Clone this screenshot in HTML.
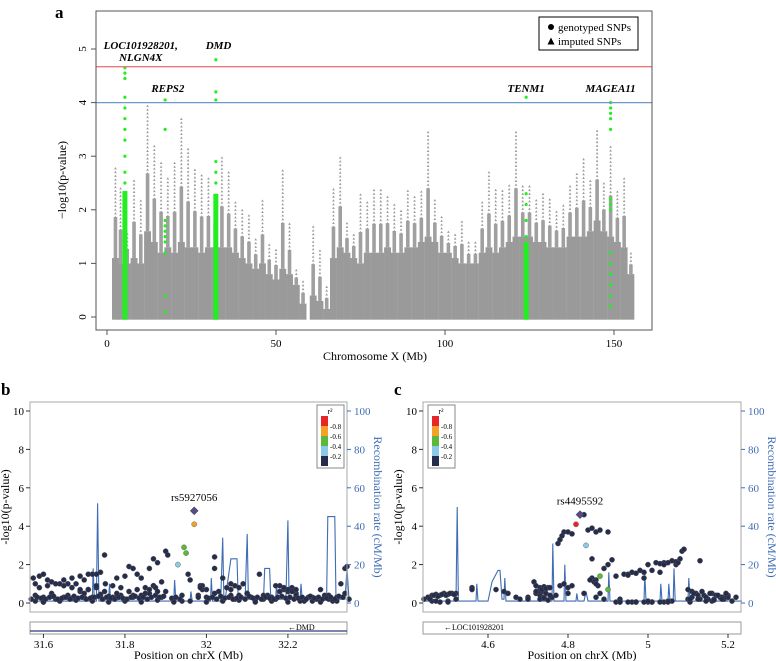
<!DOCTYPE html>
<html><head><meta charset="utf-8">
<style>
html,body{margin:0;padding:0;background:#fff;}
svg{display:block;font-family:"Liberation Serif",serif;}
</style></head>
<body>
<svg id="fig" width="776" height="661" viewBox="0 0 776 661" xmlns="http://www.w3.org/2000/svg">
<g id="pa"></g>
<g id="pb"></g>
<g id="pc"></g>
</svg>
<script>
// ---------- Panel a data ----------
const binMb    = [2.5,4,6,8,10,12,14,16,18,20,22,24,26,28,30,32,34,36,38,40,42,44,46,48,50,52,54,56,58,61,63,65,67,69,71,73,75,77,79,81,83,85,87,89,91,93,95,97,99,101,103,105,107,109,111,113,115,117,119,121,123,125,127,129,131,133,135,137,139,141,143,145,147,149,151,153,155];
const binDense = [1.1,1.0,1.0,1.1,1.0,1.6,1.4,1.2,1.3,1.2,1.4,1.3,1.3,1.2,1.3,1.3,1.3,1.3,1.2,1.1,1.0,0.9,1.0,0.8,0.7,0.9,0.8,0.6,0.25,0.4,0.3,0.15,1.1,1.3,1.2,1.1,1.0,1.2,1.2,1.2,1.3,1.2,1.2,1.3,1.3,1.4,1.5,1.4,1.2,1.2,1.1,1.0,1.0,1.0,1.2,1.3,1.2,1.3,1.4,1.5,1.5,1.5,1.4,1.4,1.3,1.3,1.3,1.5,1.5,1.5,1.6,1.8,1.6,1.5,1.4,1.3,0.8];
const binPeak  = [2.8,2.4,1.6,2.6,2.2,4.0,3.2,2.9,2.6,2.9,3.7,3.2,2.8,2.7,2.6,2.3,3.0,2.7,2.2,2.0,1.9,1.5,2.2,1.4,1.3,2.8,1.8,0.9,0.7,1.7,1.3,0.6,2.4,3.0,1.8,1.6,2.3,2.2,2.4,2.4,2.3,2.1,2.0,2.4,2.3,2.4,3.5,2.2,1.9,1.6,1.6,1.8,1.4,1.4,2.2,2.7,2.4,2.4,2.5,3.5,2.5,2.5,2.2,2.3,2.2,2.0,2.1,2.5,2.7,3.0,2.6,3.5,2.5,3.2,2.4,2.6,1.2];
const greenMb    = [5.3,17.2,32.2,124,149];
const greenDense = [2.35,0,2.3,1.4,0];
const greenPts   = [[2.5,2.7,3.0,3.3,3.5,3.7,3.9,4.1,4.45,4.55,4.65],[0.1,0.4,1.2,1.4,1.5,1.6,1.7,1.8,3.5,4.05],[2.5,2.7,2.9,4.05,4.2,4.8],[1.5,1.8,2.1,2.3,4.1],[0.2,0.4,0.6,0.8,1.0,1.2,2.0,2.1,2.2,3.5,3.7,3.8,3.9,4.0]];
const geneNames = ["LOC101928201,","NLGN4X","REPS2","DMD","TENM1","MAGEA11"];
const geneMb    = [10,10,18,33,124,149];
const geneP     = [5.0,4.78,4.2,5.0,4.2,4.2];
const aXTicks = [0,50,100,150];
const aYTicks = [0,1,2,3,4,5];
const sigLine = 4.67, sugLine = 4.0;

// ---------- Panel b data ----------
const bPos = [31.575,31.58,31.59,31.6,31.61,31.62,31.58,31.6,31.62,31.64,31.66,31.68,31.7,31.72,31.74,31.58,31.6,31.63,31.65,31.67,31.69,31.71,31.73,31.75,31.7,31.72,31.74,31.752,31.76,31.78,31.8,31.81,31.82,31.83,31.84,31.78,31.8,31.82,31.84,31.86,31.87,31.88,31.87,31.9,31.905,31.93,31.945,31.95,31.97,31.97,31.955,31.96,31.985,31.99,32.02,32.02,32.04,32.05,32.06,32.09,32.1,32.13,32.18,32.19,32.2,32.21,32.22,32.28,32.33,32.34,32.345,31.77,31.79,31.85,31.89,31.92,31.94,31.98,32.0,32.03,32.07,32.08,32.11,32.12,32.14,32.15,32.16,32.17,32.23,32.24,32.25,32.26,32.27,32.29,32.3,32.31,32.32,32.35,31.6,31.64,31.68,31.72,31.76,31.8,31.84,31.88,31.92,31.96,32.0,32.04,32.08,32.12,32.16,32.2,32.24,32.28,32.32,31.62,31.66,31.7,31.74,31.78,31.82,31.86,31.9,31.94,31.98,32.02,32.06,32.1,32.14,32.18,32.22,32.26,32.3,32.34,
 31.57,31.585,31.595,31.605,31.615,31.625,31.635,31.645,31.655,31.665,31.675,31.685,31.695,31.705,31.715,31.725,31.735,31.745,31.755,31.765,31.775,31.785,31.795,31.805,31.815,31.825,31.835,31.845,31.855,31.865,31.875,31.885,31.895,31.915,31.925,31.935,32.005,32.015,32.025,32.035,32.045,32.055,32.065,32.075,32.085,32.095,32.105,32.115,32.125,32.135,32.145,32.155,32.165,32.175,32.185,32.195,32.205,32.215,32.225,32.235,32.245,32.255,32.265,32.275,32.285,32.295,32.305,32.315,32.325,32.335,
 31.59,31.61,31.63,31.65,31.67,31.69,31.71,31.73,31.75,31.77,31.79,31.81,31.83,31.85,31.87,31.89,31.69,31.71,31.73,31.65,31.67,31.86,31.875,31.88,32.19,32.2,32.21,32.17,32.22,32.06,32.07,32.08,31.99,31.985,32.0];
const bP   = [1.3,1.0,1.4,1.5,1.2,1.1,0.4,0.3,0.35,1.0,1.0,1.0,1.2,1.5,1.6,0.1,0.05,0.2,0.3,0.25,0.6,0.7,0.8,2.5,0.3,0.3,0.4,1.0,0.35,1.3,1.4,1.9,1.8,1.5,1.3,0.3,0.2,0.3,0.4,1.8,2.3,2.1,0.9,2.7,2.5,2.0,2.9,2.6,4.8,4.1,1.5,1.2,0.9,0.7,2.4,1.8,1.3,0.8,1.0,1.0,0.5,1.5,0.9,0.7,0.6,0.8,0.5,0.7,1.0,1.8,1.9,0.3,0.4,0.5,0.3,0.2,0.1,0.4,0.3,0.6,0.2,0.4,0.3,0.1,0.2,0.4,0.3,0.2,0.1,0.2,0.3,0.1,0.2,0.4,0.2,0.1,0.3,0.2,0.05,0.1,0.15,0.1,0.05,0.1,0.05,0.15,0.05,0.1,0.05,0.1,0.15,0.05,0.1,0.05,0.1,0.05,0.1,0.5,0.4,0.5,0.45,0.5,0.4,0.5,0.6,0.4,0.3,0.5,0.4,0.5,0.4,0.6,0.4,0.3,0.4,0.5,
 0.2,0.3,0.25,0.2,0.3,0.35,0.2,0.25,0.3,0.2,0.35,0.25,0.3,0.2,0.25,0.3,0.35,0.2,0.3,0.25,0.2,0.3,0.25,0.2,0.3,0.35,0.25,0.3,0.2,0.3,0.4,0.3,0.35,0.25,0.3,0.2,0.25,0.3,0.2,0.35,0.25,0.3,0.2,0.25,0.3,0.2,0.35,0.25,0.3,0.2,0.3,0.25,0.2,0.3,0.35,0.25,0.3,0.2,0.25,0.3,0.2,0.35,0.25,0.3,0.2,0.25,0.3,0.2,0.35,0.3,
 0.8,0.9,1.0,0.9,0.8,0.7,0.7,0.9,0.6,0.9,0.8,0.6,0.7,0.8,0.9,1.1,1.4,1.5,1.5,1.2,1.3,0.7,0.8,0.6,0.8,0.7,0.6,0.9,0.7,0.7,0.9,0.8,0.9,0.8,0.7];
const bR2  = bP.map(function(v,i){ return i===49?0.7:(i===46||i===47?0.5:(i===45?0.3:0.1)); });
const bRecPos = [31.57,31.72,31.722,31.725,31.73,31.733,31.736,31.74,31.76,31.762,31.765,31.92,31.922,31.925,31.96,31.962,31.965,32.01,32.012,32.015,32.035,32.04,32.043,32.046,32.06,32.063,32.075,32.078,32.095,32.1,32.103,32.14,32.143,32.155,32.158,32.17,32.172,32.175,32.195,32.2,32.203,32.23,32.232,32.235,32.295,32.298,32.315,32.318,32.34,32.345,32.35];
const bRecRate= [1,1,18,1,1,52,1,1,1,10,1,1,12,1,1,6,1,1,13,1,1,34,2,2,23,23,23,2,2,36,2,2,18,18,2,2,10,2,2,43,2,2,10,2,2,45,45,2,2,18,2];
const bLead = "rs5927056", bLeadPos = 31.97, bLeadP = 4.8;
const bXTicks = [31.6,31.8,32,32.2];

// ---------- Panel c data ----------
const cPos = [4.44,4.45,4.46,4.47,4.48,4.49,4.5,4.51,4.52,4.46,4.48,4.5,4.52,4.56,4.56,4.62,4.64,4.65,4.67,4.68,4.7,4.715,4.72,4.73,4.74,4.75,4.73,4.76,4.775,4.78,4.785,4.79,4.8,4.81,4.82,4.83,4.84,4.845,4.85,4.86,4.87,4.88,4.9,4.78,4.79,4.8,4.81,4.86,4.87,4.875,4.88,4.89,4.9,4.9,4.92,4.94,4.96,4.98,5.0,5.02,5.04,5.06,5.08,5.085,5.09,5.1,5.11,5.12,5.14,5.16,5.18,5.2,5.22,4.92,4.96,5.0,5.04,5.06,5.1,5.13,5.16,5.19,5.21,4.47,4.5,4.7,4.74,4.77,4.8,4.84,4.88,4.93,4.97,5.01,5.05,5.11,5.15,5.2,4.735,4.745,4.755,4.87,4.89,4.95,4.99,5.03,5.07,5.13,5.17,5.19,
 4.455,4.465,4.475,4.485,4.495,4.505,4.515,4.72,4.725,4.735,4.745,4.755,4.72,4.73,4.74,4.75,4.93,4.95,4.97,4.99,5.01,5.03,5.05,5.07,4.91,4.93,4.95,4.97,4.99,5.01,5.03,5.05,5.105,5.115,5.125,5.135,5.145,5.155,5.165,5.175,5.185,5.195,5.105,5.125,5.145,5.165,5.185,5.0,5.04,5.075,4.86,4.865,4.855,4.87];
const cP   = [0.2,0.3,0.4,0.45,0.4,0.5,0.45,0.5,0.5,0.1,0.05,0.1,0.2,0.8,0.7,0.7,0.6,0.5,0.3,0.2,0.3,1.1,0.9,0.8,0.85,0.8,0.4,0.3,3.1,3.3,3.5,3.7,3.7,3.6,4.1,4.6,4.6,3.0,3.8,3.9,3.7,3.8,3.7,0.9,1.0,0.8,0.9,1.3,1.2,0.9,1.4,1.8,2.0,0.7,1.4,1.5,1.6,1.7,2.0,2.1,2.1,2.2,2.3,2.7,2.8,0.7,0.6,0.5,0.4,0.5,0.3,0.4,0.3,0.05,0.05,0.05,0.05,0.1,0.2,0.2,0.1,0.2,0.1,0.1,0.05,0.2,0.3,0.4,0.5,0.5,0.5,0.05,0.05,0.05,0.1,0.3,0.2,0.3,0.6,0.5,0.4,0.3,0.2,1.5,1.3,1.6,2.0,2.2,0.4,0.3,0.2,
 0.4,0.35,0.45,0.4,0.5,0.45,0.5,0.6,0.7,0.75,0.8,0.6,0.2,0.25,0.15,0.2,1.45,1.55,1.6,1.7,2.05,2.1,2.15,2.25,0.05,0.05,0.05,0.05,0.05,0.05,0.05,0.05,0.5,0.4,0.6,0.3,0.5,0.2,0.4,0.3,0.5,0.2,0.2,0.1,0.15,0.2,0.1,2.0,2.1,2.3,1.1,1.2,1.0,1.3];
const cR2  = cP.map(function(v,i){ return (i===34||i===35)?0.9:(i===50||i===53?0.5:(i===37?0.3:0.1)); });
const cRecPos = [4.44,4.52,4.523,4.526,4.57,4.572,4.575,4.6,4.61,4.615,4.625,4.63,4.635,4.64,4.642,4.645,4.76,4.762,4.765,4.79,4.792,4.795,4.82,4.822,4.825,4.84,4.845,4.85,4.9,4.902,4.905,4.99,4.992,4.995,5.03,5.032,5.035,5.05,5.052,5.055,5.063,5.065,5.068,5.1,5.102,5.105,5.2,5.202,5.205,5.235];
const cRecRate= [1,1,50,1,1,10,1,1,11,13,17,17,2,2,13,1,1,31,1,1,20,1,1,5,1,1,6,1,1,16,1,1,15,1,1,10,1,1,10,1,1,18,1,1,13,1,1,5,1,1];
const cLead = "rs4495592", cLeadPos = 4.83, cLeadP = 4.6;
const cXTicks = [4.6,4.8,5,5.2];
const yTicksLZ = [0,2,4,6,8,10];
const recTicks = [0,20,40,60,80,100];
const r2Labels = ["0.8","0.6","0.4","0.2"];

// ---------- helpers ----------
const NS="http://www.w3.org/2000/svg";
function mk(parent,tag,attrs,text){const e=document.createElementNS(NS,tag);for(const k in attrs)e.setAttribute(k,attrs[k]);if(text!==undefined)e.textContent=text;parent.appendChild(e);return e;}

// ---------- Panel a ----------
(function(){
const g=document.getElementById('pa');
const L=96,R=652,T=11,B=330;
const xa=function(m){return 107+m*3.38;};
const ya=function(p){return 317-p*53.6;};
let t=mk(g,'text',{x:55,y:18,'font-size':17,'font-weight':'bold'},'a');

const bw=6.9;
binMb.forEach(function(m,i){
  const dn=binDense[i],pk=binPeak[i];
  const r=mk(g,'rect',{x:xa(m)-bw/2,y:ya(dn),width:bw,height:ya(-0.05)-ya(dn),fill:'#9a9a9a'});
  
  const mid=dn+(pk-dn)*0.45;
  const r2=mk(g,'rect',{x:xa(m)-1.8,y:ya(mid),width:3.6,height:ya(dn)-ya(mid),fill:'#a0a0a0'});
  
  for(let p=mid;p<=pk+0.001;p+=0.07){
    const x=xa(m),y=ya(p);
    const tri=mk(g,'path',{d:'M'+(x-1.3)+','+(y+1.1)+'L'+(x+1.3)+','+(y+1.1)+'L'+x+','+(y-1.2)+'Z',fill:'#9a9a9a'});
    
  }
});
greenMb.forEach(function(m,i){
  if(greenDense[i]>0){
    const r=mk(g,'rect',{x:xa(m)-2.5,y:ya(greenDense[i]),width:5,height:ya(-0.05)-ya(greenDense[i]),fill:'#22ee22'});
    
  }
  greenPts[i].forEach(function(p){
    const c=mk(g,'circle',{cx:xa(m),cy:ya(p),r:1.6,fill:'#22ee22'});
    
  });
});
let l=mk(g,'line',{x1:L,x2:R,y1:ya(sigLine),y2:ya(sigLine),stroke:'#ee7777','stroke-width':1.3});

l=mk(g,'line',{x1:L,x2:R,y1:ya(sugLine),y2:ya(sugLine),stroke:'#6f98c8','stroke-width':1.3});

const box=mk(g,'rect',{x:L,y:T,width:R-L,height:B-T,fill:'none',stroke:'#555','stroke-width':1});

geneNames.forEach(function(n,i){
  const tx=mk(g,'text',{x:xa(geneMb[i]),y:ya(geneP[i]),'font-size':11,'font-weight':'bold','font-style':'italic','text-anchor':'middle'},n);
  
});
aXTicks.forEach(function(v){
  const tk=mk(g,'line',{x1:xa(v),x2:xa(v),y1:B,y2:B+5,stroke:'#555'});
  
  const tl=mk(g,'text',{x:xa(v),y:B+17,'font-size':11,'text-anchor':'middle'},String(v));
  
});
aYTicks.forEach(function(v){
  const tk=mk(g,'line',{x1:L-5,x2:L,y1:ya(v),y2:ya(v),stroke:'#555'});
  
  const tl=mk(g,'text',{x:0,y:0,'font-size':11,'text-anchor':'middle',transform:'translate('+(L-10)+','+ya(v)+') rotate(-90)'},String(v));
  
});
let at=mk(g,'text',{x:0,y:0,'font-size':12,'text-anchor':'middle',transform:'translate(66,180) rotate(-90)'},'\u2212log10(p-value)');

at=mk(g,'text',{x:375,y:360,'font-size':12,'text-anchor':'middle'},'Chromosome X (Mb)');

const lg=mk(g,'g',{});
mk(lg,'rect',{x:539,y:17,width:99,height:33,fill:'#fff',stroke:'#000','stroke-width':1});
let le=mk(lg,'circle',{cx:551,cy:27,r:3,fill:'#000'});
mk(lg,'text',{x:558,y:31,'font-size':11},'genotyped SNPs');
le=mk(lg,'path',{d:'M547.5,44.5L554.5,44.5L551,37.5Z',fill:'#000'});
mk(lg,'text',{x:558,y:45,'font-size':11},'imputed SNPs');
})();

// ---------- LocusZoom panels ----------
function lz(gid,label,L,R,xmin,xmax,pos,pv,r2,recP,recR,lead,leadPos,leadP,xt,geneText,geneX,legX){
const g=document.getElementById(gid);
const T=402,B=612;
const xs=function(v){return L+(v-xmin)/(xmax-xmin)*(R-L);};
const ys=function(p){return 603-p*19.2;};
const yr=function(r){return 603-r*1.92;};
let t=mk(g,'text',{x:L-29,y:395,'font-size':17,'font-weight':'bold'},label);

const col=function(r){return r>=0.8?'#e8262a':r>=0.6?'#f5a028':r>=0.4?'#5cb83a':r>=0.2?'#8cc8ea':'#252c4c';};
let d='';
recP.forEach(function(p,i){d+=(i?'L':'M')+xs(p).toFixed(1)+','+yr(recR[i]).toFixed(1);});
const rl=mk(g,'path',{d:d,fill:'none',stroke:'#3f6cb4','stroke-width':1.1});

pos.forEach(function(p,i){
  const c=mk(g,'circle',{cx:xs(p),cy:ys(pv[i]),r:2.6,fill:col(r2[i]),stroke:'#555','stroke-width':0.4});
  
});
const lx=xs(leadPos),ly=ys(leadP);
const dm=mk(g,'path',{d:'M'+lx+','+(ly-4)+'L'+(lx+4)+','+ly+'L'+lx+','+(ly+4)+'L'+(lx-4)+','+ly+'Z',fill:'#5a4a8a',stroke:'#333','stroke-width':0.5});

const ll=mk(g,'text',{x:lx,y:ly-10,'font-size':11,'text-anchor':'middle'},lead);

const fr=mk(g,'rect',{x:L,y:T,width:R-L,height:B-T,fill:'none',stroke:'#aaa','stroke-width':1});

yTicksLZ.forEach(function(v){
  const tk=mk(g,'line',{x1:L-4,x2:L,y1:ys(v),y2:ys(v),stroke:'#333'});
  const tl=mk(g,'text',{x:L-6,y:ys(v)+4,'font-size':11,'text-anchor':'end'},String(v));
});
recTicks.forEach(function(v){
  const tk=mk(g,'line',{x1:R,x2:R+4,y1:yr(v),y2:yr(v),stroke:'#3f6cb4'});
  const tl=mk(g,'text',{x:R+7,y:yr(v)+4,'font-size':11,fill:'#3f6cb4'},String(v));
});
let a=mk(g,'text',{x:0,y:0,'font-size':12,'text-anchor':'middle',transform:'translate('+(L-21)+',507) rotate(-90)'},'-log10(p-value)');

a=mk(g,'text',{x:0,y:0,'font-size':12,'text-anchor':'middle',fill:'#3f6cb4',transform:'translate('+(R+27)+',507) rotate(90)'},'Recombination rate (cM/Mb)');

const gt=mk(g,'rect',{x:L,y:622,width:R-L,height:12,fill:'#fff',stroke:'#999'});

if(label==='b'){const ln=mk(g,'line',{x1:L,x2:R,y1:631,y2:631,stroke:'#2a3f7a','stroke-width':1.2});}
const gl=mk(g,'text',{x:geneX,y:630,'font-size':8},geneText);

xt.forEach(function(v){
  const tk=mk(g,'line',{x1:xs(v),x2:xs(v),y1:634,y2:638,stroke:'#333'});
  const tl=mk(g,'text',{x:xs(v),y:648,'font-size':11,'text-anchor':'middle'},String(v));
});
a=mk(g,'text',{x:(L+R)/2,y:659,'font-size':12,'text-anchor':'middle'},'Position on chrX (Mb)');

const lg=mk(g,'g',{});
mk(lg,'rect',{x:legX,y:405,width:27,height:63,fill:'#fff',stroke:'#888'});
mk(lg,'text',{x:legX+13,y:414,'font-size':8,'text-anchor':'middle'},'r\u00b2');
const cols=['#e8262a','#f5a028','#5cb83a','#8cc8ea','#252c4c'];
cols.forEach(function(c,i){mk(lg,'rect',{x:legX+4,y:416+i*10,width:7,height:10,fill:c});});
r2Labels.forEach(function(s,i){mk(lg,'text',{x:legX+13,y:429+i*10,'font-size':7},'-'+s);});
}
lz('pb','b',30,347,31.567,32.345,bPos,bP,bR2,bRecPos,bRecRate,bLead,bLeadPos,bLeadP,bXTicks,'\u2190DMD',288,317);
lz('pc','c',423,741,4.4375,5.2325,cPos,cP,cR2,cRecPos,cRecRate,cLead,cLeadPos,cLeadP,cXTicks,'\u2190LOC101928201',444,428);
</script>
</body></html>
